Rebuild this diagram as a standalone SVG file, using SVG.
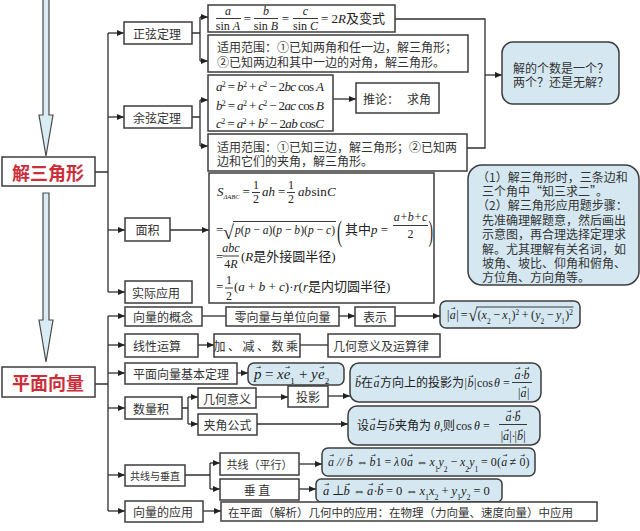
<svg xmlns="http://www.w3.org/2000/svg" width="640" height="531" viewBox="0 0 640 531">
<defs>
<marker id="ah" markerWidth="7" markerHeight="6" refX="7" refY="3" orient="auto" markerUnits="userSpaceOnUse"><path d="M0,0L7,3L0,6z" fill="#222"/></marker>
<style>
.box{fill:#fff;stroke:#3d3d3d;stroke-width:1.5}
.rb{fill:#d5e8f2;stroke:#3d3d3d;stroke-width:1.5}
.c{font-family:"Noto Sans CJK SC",sans-serif;font-size:12px;fill:#333;dominant-baseline:central}
.f{font-family:"Liberation Serif","Noto Sans CJK SC",serif;font-size:13px;fill:#222}
.i{font-style:italic}
.t{font-family:"Noto Sans CJK SC",sans-serif;font-size:18px;font-weight:bold;fill:#cc2f3a;dominant-baseline:central}
.ln{fill:none;stroke:#2f2f2f;stroke-width:1.3}
.ar{marker-end:url(#ah)}
.fl{stroke:#222;stroke-width:0.9}
.sup{baseline-shift:super;font-size:8px}
.sub{baseline-shift:sub;font-size:8px}
.mid{text-anchor:middle}
.big{fill:#d9ecf4;stroke:#4a4a4a;stroke-width:1.2}
.va{font-family:"DejaVu Sans",sans-serif;font-size:6px;fill:#222;text-anchor:middle}
.s10{font-size:10px}
.s11{font-size:11px}
.s115{font-size:11.5px}
.s12{font-size:12px}
.s125{font-size:12.5px}
.s15{font-size:15px}
.s18{font-size:18px}
.s20{font-size:20px}
.s30{font-size:30px}
.s65{font-size:6.5px}
.s9{font-size:9px}
</style>
</defs>
<rect width="640" height="531" fill="#fff"/>

<g id="connectors">
<polygon class="big" points="43,-2 49,-2 49,115 53,115 46,156 39,115 43,115"/>
<polygon class="big" points="43,193 49,193 49,320 53,320 46,362 39,320 43,320"/>
<path class="ln" d="M95,172H108M108,33V292"/>
<path class="ln ar" d="M108,33H124"/>
<path class="ln ar" d="M108,117H124"/>
<path class="ln ar" d="M108,230H125"/>
<path class="ln ar" d="M108,292H125"/>
<path class="ln" d="M192,33H200M200,17V61"/>
<path class="ln ar" d="M200,17H208"/>
<path class="ln ar" d="M200,61H208"/>
<path class="ln" d="M192,117H200M200,100V146"/>
<path class="ln ar" d="M200,100H208"/>
<path class="ln ar" d="M200,146H208"/>
<path class="ln ar" d="M333,99H356"/>
<path class="ln" d="M395,19H485V148H467"/>
<path class="ln ar" d="M485,75H502"/>
<path class="ln ar" d="M170,230H209"/>

<path class="ln" d="M95,384H108M108,316V511"/>
<path class="ln ar" d="M108,316H125"/>
<path class="ln ar" d="M108,345H125"/>
<path class="ln ar" d="M108,373H125"/>
<path class="ln ar" d="M108,408H125"/>
<path class="ln ar" d="M108,475H125"/>
<path class="ln ar" d="M108,511H125"/>
<path class="ln" d="M202,316H226"/>
<path class="ln ar" d="M339,316H355"/>
<path class="ln ar" d="M395,316H440"/>
<path class="ln ar" d="M198,345H214"/>
<path class="ln" d="M300,345H328"/>
<path class="ln ar" d="M237,373H248"/>
<path class="ln" d="M182,408H188M188,397V424"/>
<path class="ln ar" d="M188,397H198"/>
<path class="ln ar" d="M188,424H198"/>
<path class="ln ar" d="M256,397H288"/>
<path class="ln ar" d="M328,396H350"/>
<path class="ln ar" d="M257,424H348"/>
<path class="ln" d="M185,475H210M210,463V489"/>
<path class="ln ar" d="M210,463H220"/>
<path class="ln ar" d="M210,489H220"/>
<path class="ln ar" d="M299,464H322"/>
<path class="ln ar" d="M299,489H316"/>
<path class="ln ar" d="M203,511H221"/>
</g>

<g id="title-triangle"><rect class="box" x="2" y="157" width="93" height="29"/><text class="t mid" x="48" y="171.5">解三角形</text></g>
<g id="title-vector"><rect class="box" x="2" y="367" width="93" height="30"/><text class="t mid" x="48" y="382">平面向量</text></g>

<g id="sine"><rect class="box" x="124" y="22" width="68" height="22"/><text class="c" x="133" y="33">正弦定理</text></g>
<g id="sine-formula"><rect class="box" x="208" y="5" width="187" height="27"/>
<text class="f s12 i mid" x="228" y="15">a</text>
<text class="f s12 mid" x="228" y="29.5">sin <tspan class="i">A</tspan></text>
<text class="f mid" x="247.5" y="22.5">=</text>
<text class="f s12 i mid" x="266" y="15">b</text>
<text class="f s12 mid" x="266" y="29.5">sin <tspan class="i">B</tspan></text>
<text class="f mid" x="285.5" y="22.5">=</text>
<text class="f s12 i mid" x="305.5" y="15">c</text>
<text class="f s12 mid" x="305.5" y="29.5">sin <tspan class="i">C</tspan></text>
<text class="f" x="321" y="22.5">= 2<tspan class="i">R</tspan>及变式</text>
<path class="fl" d="M216,18.5H241M254,18.5H278M293,18.5H318"/>
</g>
<g id="sine-scope"><rect class="box" x="208" y="35" width="260" height="37"/>
<text class="c" x="217" y="46">适用范围：①已知两角和任一边，解三角形；</text>
<text class="c" x="217" y="61.5">②已知两边和其中一边的对角，解三角形。</text></g>

<g id="cosine"><rect class="box" x="124" y="106" width="68" height="22"/><text class="c" x="133" y="117">余弦定理</text></g>
<g id="cosine-formula"><rect class="box" x="208" y="75" width="125" height="56"/>
<text class="f" x="216" y="91" textLength="108"><tspan class="i">a</tspan><tspan class="sup">2</tspan> = <tspan class="i">b</tspan><tspan class="sup">2</tspan> + <tspan class="i">c</tspan><tspan class="sup">2</tspan> − 2<tspan class="i">bc</tspan> cos <tspan class="i">A</tspan></text>
<text class="f" x="216" y="109.5" textLength="108"><tspan class="i">b</tspan><tspan class="sup">2</tspan> = <tspan class="i">a</tspan><tspan class="sup">2</tspan> + <tspan class="i">c</tspan><tspan class="sup">2</tspan> − 2<tspan class="i">ac</tspan> cos <tspan class="i">B</tspan></text>
<text class="f" x="216" y="128" textLength="108"><tspan class="i">c</tspan><tspan class="sup">2</tspan> = <tspan class="i">a</tspan><tspan class="sup">2</tspan> + <tspan class="i">b</tspan><tspan class="sup">2</tspan> − 2<tspan class="i">ab</tspan> cos<tspan class="i">C</tspan></text>
</g>
<g id="corollary"><rect class="box" x="356" y="83" width="83" height="30"/><text class="c" x="363" y="98">推论：<tspan dx="8">求角</tspan></text></g>
<g id="cosine-scope"><rect class="box" x="208" y="134" width="259" height="37"/>
<text class="c" x="217" y="146">适用范围：①已知三边，解三角形；②已知两</text>
<text class="c" x="217" y="160">边和它们的夹角，解三角形。</text></g>

<g id="solutions"><rect class="rb" x="502" y="42" width="117" height="62" rx="11"/>
<text class="c" x="513" y="67">解的个数是一个？</text>
<text class="c" x="513" y="81">两个？还是无解？</text></g>

<g id="area"><rect class="box" x="125" y="218" width="45" height="23"/><text class="c mid" x="147.5" y="229.5">面积</text></g>
<g id="area-formula"><rect class="box" x="209" y="173" width="225" height="130"/>
<text class="f" x="217" y="196"><tspan class="i">S</tspan><tspan class="i s65" dy="2.5">ΔABC</tspan></text>
<text class="f" x="242.5" y="196">=</text>
<text class="f s12 mid" x="256" y="189">1</text><text class="f s12 mid" x="256" y="203">2</text>
<text class="f i" x="262" y="196">ah</text>
<text class="f" x="278" y="196">=</text>
<text class="f s12 mid" x="291" y="189">1</text><text class="f s12 mid" x="291" y="203">2</text>
<text class="f" y="196"><tspan class="i" x="298">ab</tspan><tspan x="311.5">sin</tspan><tspan class="i" x="327">C</tspan></text>
<path class="fl" d="M252,192.5H260M287,192.5H295"/>
<text class="f" x="216" y="234">=</text>
<text class="f s20" x="223" y="238.5">√</text>
<path class="fl" d="M233,221.5H336"/>
<text class="f" x="235" y="234" textLength="100" lengthAdjust="spacingAndGlyphs"><tspan class="i">p</tspan>(<tspan class="i">p</tspan> − <tspan class="i">a</tspan>)(<tspan class="i">p</tspan> − <tspan class="i">b</tspan>)(<tspan class="i">p</tspan> − <tspan class="i">c</tspan>)</text>
<text class="f s30" transform="translate(337,241) scale(0.5,1)">(</text>
<text class="f" x="345" y="234">其中<tspan class="i">p</tspan> =</text>
<text class="f s12 i mid" x="410.5" y="221">a+b+c</text>
<path class="fl" d="M393,225.5H428"/>
<text class="f s12 mid" x="410.5" y="238">2</text>
<text class="f s30" transform="translate(428.5,241) scale(0.45,1)">)</text>
<text class="f" x="216" y="261">=</text>
<text class="f s12 i mid" x="231" y="252">abc</text>
<path class="fl" d="M223,256H239"/>
<text class="f s12 mid" x="231" y="268">4<tspan class="i">R</tspan></text>
<text class="f" x="241" y="261">(<tspan class="i">R</tspan>是外接圆半径)</text>
<text class="f" x="216" y="291">=</text>
<text class="f s12 mid" x="229" y="284">1</text>
<path class="fl" d="M225,288H233"/>
<text class="f s12 mid" x="229" y="300">2</text>
<text class="f" x="234" y="291">(<tspan class="i">a</tspan> + <tspan class="i">b</tspan> + <tspan class="i">c</tspan>)·<tspan class="i">r</tspan>(<tspan class="i">r</tspan>是内切圆半径)</text>
</g>
<g id="practical"><rect class="box" x="125" y="281" width="67" height="22"/><text class="c" x="132" y="292">实际应用</text></g>

<g id="notes"><rect class="rb" x="468" y="165" width="171" height="120" rx="14"/>
<text class="c" x="477" y="176">（1）解三角形时，三条边和</text>
<text class="c" x="482" y="190.4">三个角中“知三求二”。</text>
<text class="c" x="477" y="204.8">（2）解三角形应用题步骤：</text>
<text class="c" x="482" y="219.2">先准确理解题意，然后画出</text>
<text class="c" x="482" y="233.6">示意图，再合理选择定理求</text>
<text class="c" x="482" y="248">解。尤其理解有关名词，如</text>
<text class="c" x="482" y="262.4">坡角、坡比、仰角和俯角、</text>
<text class="c" x="482" y="276.8">方位角、方向角等。</text></g>

<g id="concept"><rect class="box" x="125" y="307" width="77" height="19"/><text class="c" x="133" y="316.5">向量的概念</text></g>
<g id="zero-unit"><rect class="box" x="226" y="307" width="113" height="19"/><text class="c mid" x="282.5" y="316.5">零向量与单位向量</text></g>
<g id="represent"><rect class="box" x="355" y="307" width="40" height="19"/><text class="c mid" x="375" y="316.5">表示</text></g>
<g id="modulus"><rect class="rb" x="440" y="301" width="140" height="27" rx="6"/>
<g transform="translate(447 0) scale(0.923 1) translate(-447 0)">
<text class="f" y="319"><tspan x="447">|</tspan><tspan class="i" x="450">a</tspan><tspan x="457">|</tspan><tspan x="462">=</tspan><tspan x="480">(</tspan><tspan class="i" x="484.5">x</tspan><tspan class="sub">2</tspan><tspan x="497">−</tspan><tspan class="i" x="507">x</tspan><tspan class="sub">1</tspan><tspan x="517">)</tspan><tspan class="sup">2</tspan><tspan x="528">+</tspan><tspan x="538">(</tspan><tspan class="i" x="542.5">y</tspan><tspan class="sub">2</tspan><tspan x="555">−</tspan><tspan class="i" x="565">y</tspan><tspan class="sub">1</tspan><tspan x="575">)</tspan><tspan class="sup">2</tspan></text>
<text class="f s18" x="470" y="321.5">√</text>
<path class="fl" d="M479,307H584"/>
<text class="va" x="453.5" y="310">→</text>
</g></g>

<g id="linear"><rect class="box" x="125" y="334" width="73" height="23"/><text class="c" x="133" y="345.5">线性运算</text></g>
<g id="ops"><rect class="box" x="214" y="334" width="86" height="23"/><text class="c mid" x="257" y="345.5" letter-spacing="2.5">加、减、数乘</text></g>
<g id="geo-law"><rect class="box" x="328" y="334" width="112" height="23"/><text class="c mid" x="381" y="345.5">几何意义及运算律</text></g>

<g id="basic-theorem"><rect class="box" x="125" y="363" width="112" height="21"/><text class="c" x="133" y="373.5">平面向量基本定理</text></g>
<g id="basis"><rect class="rb" x="248" y="363" width="96" height="22" rx="6"/>
<text class="f s15" y="379"><tspan class="i" x="254">p</tspan><tspan x="265">=</tspan><tspan class="i" x="277">x</tspan><tspan class="i" x="283.7">e</tspan><tspan class="sub s9">1</tspan><tspan x="299">+</tspan><tspan class="i" x="311">y</tspan><tspan class="i" x="318">e</tspan><tspan class="sub s9">2</tspan></text>
<text class="va" y="369"><tspan x="258.5">→</tspan><tspan x="287.5">→</tspan><tspan x="321.8">→</tspan></text></g>

<g id="dot"><rect class="box" x="125" y="397" width="57" height="22"/><text class="c" x="133" y="408">数量积</text></g>
<g id="geo-meaning"><rect class="box" x="198" y="388" width="58" height="20"/><text class="c mid" x="227" y="398">几何意义</text></g>
<g id="projection"><rect class="box" x="288" y="386" width="40" height="21"/><text class="c mid" x="308" y="396.5">投影</text></g>
<g id="projection-formula"><rect class="rb" x="350" y="363" width="191" height="39" rx="9"/>
<text class="f s12" y="387"><tspan class="i" x="355">b</tspan><tspan x="361">在</tspan><tspan class="i" x="373.5">a</tspan><tspan x="380">方向上的投影为</tspan><tspan x="464.5">|</tspan><tspan class="i" x="467.5">b</tspan><tspan x="474">|</tspan><tspan x="477">cos</tspan><tspan class="i" x="494">θ</tspan><tspan x="503">=</tspan></text>
<text class="va" y="378"><tspan x="358.5">→</tspan><tspan x="377">→</tspan><tspan x="471">→</tspan></text>
<text class="f s12" y="379"><tspan class="i" x="514.5">a</tspan><tspan x="520.5">·</tspan><tspan class="i" x="523.5">b</tspan></text>
<text class="va" y="370"><tspan x="518">→</tspan><tspan x="527">→</tspan></text>
<path class="fl" d="M512,382.5H532"/>
<text class="f s12" y="397"><tspan x="518">|</tspan><tspan class="i" x="520.5">a</tspan><tspan x="527">|</tspan></text>
<text class="va" y="389"><tspan x="524">→</tspan></text></g>
<g id="angle"><rect class="box" x="198" y="414" width="59" height="21"/><text class="c mid" x="227.5" y="424.5">夹角公式</text></g>
<g id="angle-formula"><rect class="rb" x="348" y="406" width="192" height="39" rx="9"/>
<text class="f s12" y="429.5"><tspan x="357">设</tspan><tspan class="i" x="369.5">a</tspan><tspan x="376">与</tspan><tspan class="i" x="388.5">b</tspan><tspan x="395">夹角为</tspan><tspan class="i" x="434">θ</tspan><tspan x="440">,则</tspan><tspan x="456">cos</tspan><tspan class="i" x="474">θ</tspan><tspan x="483">=</tspan></text>
<text class="va" y="420.5"><tspan x="373">→</tspan><tspan x="392">→</tspan></text>
<text class="f s12" y="421"><tspan class="i" x="505.5">a</tspan><tspan x="511.5">·</tspan><tspan class="i" x="514.5">b</tspan></text>
<text class="va" y="412.5"><tspan x="509">→</tspan><tspan x="518">→</tspan></text>
<path class="fl" d="M499,424.5H527"/>
<text class="f s12" y="440"><tspan x="500.7">|</tspan><tspan class="i" x="503.1">a</tspan><tspan x="509.3">|</tspan><tspan x="511.6">·</tspan><tspan x="514.6">|</tspan><tspan class="i" x="517">b</tspan><tspan x="523.2">|</tspan></text>
<text class="va" y="432"><tspan x="506.6">→</tspan><tspan x="520.5">→</tspan></text></g>

<g id="collinear-perp"><rect class="box" x="125" y="465" width="60" height="21"/><text class="c s10 mid" x="155" y="475.5">共线与垂直</text></g>
<g id="collinear"><rect class="box" x="220" y="453" width="79" height="22"/><text class="c s11 mid" x="259.5" y="464">共线（平行）</text></g>
<g id="perp"><rect class="box" x="220" y="479" width="79" height="21"/><text class="c mid" x="257" y="489.5">垂 直</text></g>
<g id="parallel-formula"><rect class="rb" x="322" y="448" width="213" height="28" rx="6"/>
<g transform="translate(328 0) scale(0.957 1) translate(-328 0)">
<text class="f s125" y="466.5"><tspan class="i" x="328">a</tspan><tspan class="i" x="337.5">//</tspan><tspan class="i" x="347.5">b</tspan><tspan x="357.5">⇔</tspan><tspan class="i" x="371.5">b</tspan><tspan x="378">1</tspan><tspan x="387">=</tspan><tspan class="i" x="397">λ</tspan><tspan x="404">0</tspan><tspan class="i" x="410.5">a</tspan><tspan x="420">⇔</tspan><tspan class="i" x="434">x</tspan><tspan class="sub">1</tspan><tspan class="i" x="443.5">y</tspan><tspan class="sub">2</tspan><tspan x="456">−</tspan><tspan class="i" x="466">x</tspan><tspan class="sub">2</tspan><tspan class="i" x="475.5">y</tspan><tspan class="sub">1</tspan><tspan x="488">=</tspan><tspan x="498">0</tspan><tspan x="504.5">(</tspan><tspan class="i" x="509">a</tspan><tspan x="518">≠</tspan><tspan x="528">0</tspan><tspan x="534.5">)</tspan></text>
<text class="va" y="457"><tspan x="331.8">→</tspan><tspan x="351.5">→</tspan><tspan x="375.5">→</tspan><tspan x="414.2">→</tspan><tspan x="512.8">→</tspan><tspan x="531.3">→</tspan></text>
</g></g>
<g id="perp-formula"><rect class="rb" x="316" y="479" width="186" height="23" rx="5"/>
<text class="f s125" y="495"><tspan class="i" x="323">a</tspan><tspan x="332">⊥</tspan><tspan class="i" x="343.5">b</tspan><tspan x="353">⇔</tspan><tspan class="i" x="367">a</tspan><tspan x="373.5">·</tspan><tspan class="i" x="377">b</tspan><tspan x="386">=</tspan><tspan x="396">0</tspan><tspan x="405.5">⇔</tspan><tspan class="i" x="419.5">x</tspan><tspan class="sub">1</tspan><tspan class="i" x="429">x</tspan><tspan class="sub">2</tspan><tspan x="441.5">+</tspan><tspan class="i" x="451.5">y</tspan><tspan class="sub">1</tspan><tspan class="i" x="461">y</tspan><tspan class="sub">2</tspan><tspan x="473.5">=</tspan><tspan x="483.5">0</tspan></text>
<text class="va" y="485.5"><tspan x="326.8">→</tspan><tspan x="347.5">→</tspan><tspan x="370.8">→</tspan><tspan x="381">→</tspan></text></g>

<g id="application"><rect class="box" x="125" y="501" width="78" height="21"/><text class="c" x="133" y="511.5">向量的应用</text></g>
<g id="application-detail"><rect class="box" x="221" y="502" width="376" height="19"/><text class="c s115" x="228" y="511.5">在平面（解析）几何中的应用：在物理（力向量、速度向量）中应用</text></g>
</svg>
